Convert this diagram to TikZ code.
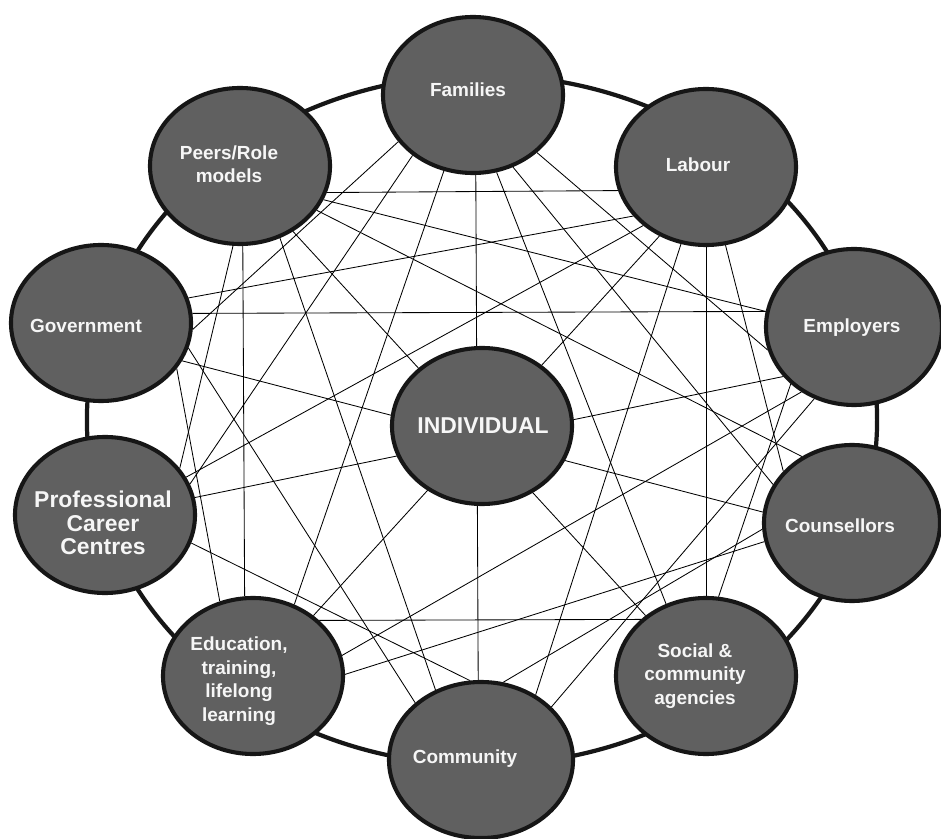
\documentclass[tikz,border=0pt]{standalone}
\usepackage{fontspec}
\setmainfont{Liberation Sans}
\usetikzlibrary{shapes.geometric}
\pgfdeclarelayer{bg}
\pgfsetlayers{bg,main}
\definecolor{nodegray}{RGB}{96,96,96}
\definecolor{rim}{RGB}{22,22,22}
\definecolor{txt}{RGB}{246,246,246}
\tikzset{
  hub/.style={ellipse, draw=rim, fill=nodegray, line width=2.9pt,
              minimum width=4.5cm, minimum height=3.9cm, inner sep=0pt},
  lbl/.style={text=txt, font=\fontsize{13.5}{16.7}\selectfont\bfseries,
              align=center, inner sep=0pt},
  biglbl/.style={lbl, font=\fontsize{16.3}{16.6}\selectfont\bfseries},
  link/.style={line width=0.6pt, black},
  ring/.style={line width=3pt, rim}
}
\begin{document}
\begin{tikzpicture}[x=0.025cm, y=-0.025cm]
\useasboundingbox (0,0) rectangle (941,839);
% nodes
\node[hub] (F) at (473,95) {};
\node[hub] (L) at (706,167) {};
\node[hub, minimum width=4.4cm] (E) at (854,327) {};
\node[hub, minimum width=4.4cm] (C) at (852,523) {};
\node[hub] (S) at (706,676) {};
\node[hub, minimum width=4.6cm] (M) at (481,760) {};
\node[hub] (Ed) at (253,676) {};
\node[hub] (P) at (105,515) {};
\node[hub] (G) at (101,323) {};
\node[hub] (R) at (240,166) {};
\node[hub] (I) at (482,426) {};
% labels
\node[lbl] (Ft) at (468,90) {Families};
\node[lbl] (Lt) at (698,165) {Labour};
\node[lbl] (Et) at (852,328) {Employers};
\node[lbl] (Ct) at (840,526) {Counsellors};
\node[lbl] (St) at (695,676) {Social \&\\community\\agencies};
\node[lbl] (Mt) at (465,759) {Community};
\node[lbl] (Edt) at (239,681) {Education,\\training,\\lifelong\\learning};
\node[biglbl] (Pt) at (103,523) {Professional\\Career\\Centres};
\node[lbl] (Gt) at (86,326) {Government};
\node[lbl] (Rt) at (229,164) {Peers/Role\\models};
\node[biglbl] (It) at (483,426) {INDIVIDUAL};
% ring and links behind the nodes
\begin{pgfonlayer}{bg}
\draw[ring] (482,420) ellipse [x radius=9.875cm, y radius=8.625cm];
\draw[link] (R.343.5) -- (L.195.9);
\draw[link] (R.338.8) -- (E.170);
\draw[link] (R.330.1) -- (C.127.1);
\draw[link] (R.309.4) -- (S.135.9);
\draw[link] (R.299.1) -- (M.123.3);
\draw[link] (R.272.9) -- (Ed.96.5);
\draw[link] (R.265) -- (P.32.6);
\draw[link] (F.212.6) -- (G.356.8);
\draw[link] (F.225.9) -- (P.20.2);
\draw[link] (F.249) -- (Ed.60.1);
\draw[link] (F.272.9) -- (M.92.9);
\draw[link] (F.287.8) -- (S.119);
\draw[link] (F.299.9) -- (C.154.6);
\draw[link] (F.318.3) -- (E.195.5);
\draw[link] (G.16.6) -- (L.214.4);
\draw[link] (G.6.2) -- (E.170.6);
\draw[link] (G.344.6) -- (M.139.2);
\draw[link] (G.335.7) -- (C.173.6);
\draw[link] (G.329.7) -- (Ed.114);
\draw[link] (L.223.6) -- (P.25.7);
\draw[link] (L.236.7) -- (Ed.45.5);
\draw[link] (L.252.9) -- (M.50.3);
\draw[link] (L.270) -- (S.90);
\draw[link] (L.284.7) -- (C.143.9);
\draw[link] (E.222.6) -- (S.81.6);
\draw[link] (E.215) -- (P.11.1);
\draw[link] (E.241.8) -- (M.37.5);
\draw[link] (E.231.6) -- (Ed.13.1);
\draw[link] (C.184.5) -- (M.74.1);
\draw[link] (C.192.3) -- (Ed.1.9);
\draw[link] (Ed.40.7) -- (S.139.7);
\draw[link] (P.342.9) -- (M.98.1);
\end{pgfonlayer}
\end{tikzpicture}
\end{document}
